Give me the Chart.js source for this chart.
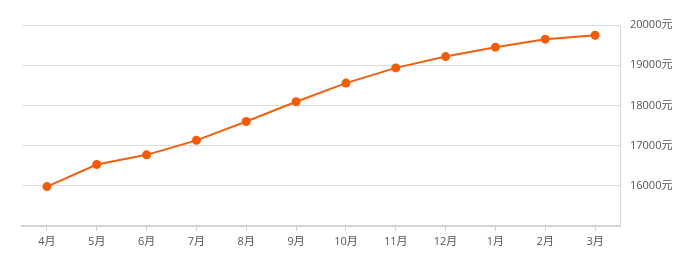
<!DOCTYPE html>
<html>
<head>
<meta charset="utf-8">
<script src="https://cdn.jsdelivr.net/npm/chart.js@4"></script>
<style>
html,body{margin:0;padding:0;background:#fff;}
#wrap{width:692px;height:258px;}
</style>
</head>
<body>
<div id="wrap"><canvas id="c" width="692" height="258"></canvas></div>
<script>
const categories = ["4月","5月","6月","7月","8月","9月","10月","11月","12月","1月","2月","3月"];
const prices = [15980, 16530, 16770, 17130, 17600, 18090, 18555, 18933, 19214, 19448, 19647, 19746];
const yTicks = [16000, 17000, 18000, 19000, 20000];
const yUnit = "元";

const fontFamily = '"Open Sans", "Noto Sans CJK SC", sans-serif';
new Chart(document.getElementById('c'), {
  type: 'line',
  data: {
    labels: categories,
    datasets: [{
      data: prices,
      borderColor: '#f0600e',
      backgroundColor: '#f0600e',
      borderWidth: 2,
      pointRadius: 4.5,
      pointHoverRadius: 4.5,
      pointBackgroundColor: '#f25c08',
      pointBorderWidth: 0,
      tension: 0,
      fill: false
    }]
  },
  options: {
    responsive: false,
    animation: false,
    devicePixelRatio: 1,
    layout: { padding: { left: 22, top: 25, right: 0, bottom: 0 } },
    plugins: { legend: { display: false }, tooltip: { enabled: false } },
    scales: {
      x: {
        offset: true,
        grid: { display: true, drawOnChartArea: false, drawTicks: true, tickLength: 5, color: '#d0d0d0', offset: false },
        border: { display: true, color: '#d4d4d4', width: 2 },
        ticks: { color: '#555', font: { family: fontFamily, size: 11 }, padding: 4, maxRotation: 0, autoSkip: false },
        afterFit: (s) => { s.height = 32; }
      },
      y: {
        position: 'right',
        min: 15000,
        max: 20000,
        afterBuildTicks: (s) => { s.ticks = [15000].concat(yTicks).map(v => ({ value: v })); },
        grid: { color: '#dcdcdc', lineWidth: 1, drawTicks: false },
        border: { display: true, color: '#d8d8d8', width: 1 },
        ticks: {
          color: '#555',
          font: { family: fontFamily, size: 11 },
          padding: 10,
          callback: (v) => yTicks.includes(v) ? v + yUnit : ''
        },
        afterFit: (s) => { s.width = 72; }
      }
    }
  }
});
</script>
</body>
</html>
